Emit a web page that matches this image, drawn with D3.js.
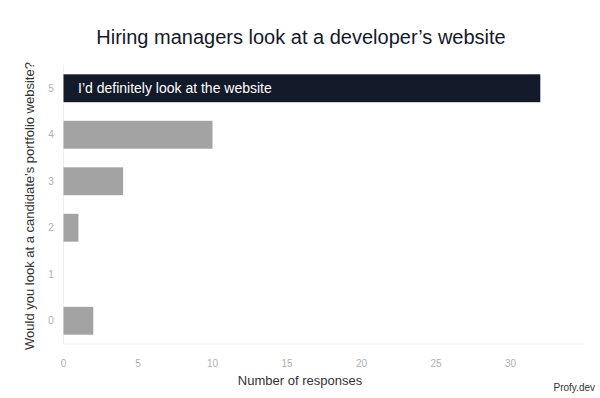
<!DOCTYPE html>
<html><head><meta charset="utf-8">
<script src="https://cdn.jsdelivr.net/npm/d3@7"></script>
<style>body{margin:0;background:#fff;font-family:"Liberation Sans",Arial,sans-serif;}</style>
</head><body><svg id="c" width="600" height="398"></svg>
<script>
const categories = ["5","4","3","2","1","0"];
const values = [32, 10, 4, 1, 0, 2];
const xTicks = [0,5,10,15,20,25,30];
const highlightLabel = "I\u2019d definitely look at the website";

const svg = d3.select("#c");
const m = {left:63.5, right:585, top:65, bottom:344};
const x = d3.scaleLinear().domain([0,35]).range([m.left, m.right]);
const y = d3.scaleBand().domain(categories).range([m.top, m.bottom]).paddingInner(0.4).paddingOuter(0.2);

svg.append("text").attr("x",301).attr("y",44).attr("text-anchor","middle")
  .attr("font-size",20).attr("fill","#131a2a").text("Hiring managers look at a developer\u2019s website");

svg.append("line").attr("x1",m.left).attr("x2",m.left).attr("y1",m.top).attr("y2",m.bottom).attr("stroke","#eeeeee");
svg.append("line").attr("x1",m.left).attr("x2",m.right).attr("y1",m.bottom).attr("y2",m.bottom).attr("stroke","#eeeeee");

const data = categories.map((c,i)=>({c, v:values[i]}));
svg.selectAll("rect.bar").data(data).join("rect").attr("class","bar")
  .attr("x", x(0)).attr("y", d=>y(d.c)).attr("height", y.bandwidth())
  .attr("width", d=>x(d.v)-x(0))
  .attr("fill", (d,i)=> i===0 ? "#131a2a" : "#a3a3a3");

svg.append("text").attr("x", x(0)+14.5).attr("y", y("5")+y.bandwidth()/2+5)
  .attr("font-size",14).attr("fill","#fff").text(highlightLabel);

svg.selectAll("text.yt").data(categories).join("text").attr("class","yt")
  .attr("x",51).attr("y",d=>y(d)+y.bandwidth()/2+3.5).attr("text-anchor","middle")
  .attr("font-size",10).attr("fill","#b0b0b0").text(d=>d);

svg.selectAll("text.xt").data(xTicks).join("text").attr("class","xt")
  .attr("x",d=>x(d)).attr("y",367).attr("text-anchor","middle")
  .attr("font-size",10).attr("fill","#b0b0b0").text(d=>d);

svg.append("text").attr("x",300).attr("y",385).attr("text-anchor","middle")
  .attr("font-size",13).attr("fill","#333").text("Number of responses");

svg.append("text").attr("transform","translate(34,206) rotate(-90)").attr("text-anchor","middle")
  .attr("font-size",13).attr("fill","#333").text("Would you look at a candidate\u2019s portfolio website?");

svg.append("text").attr("x",595).attr("y",391).attr("text-anchor","end")
  .attr("font-size",10).attr("fill","#333").text("Profy.dev");
</script></body></html>
